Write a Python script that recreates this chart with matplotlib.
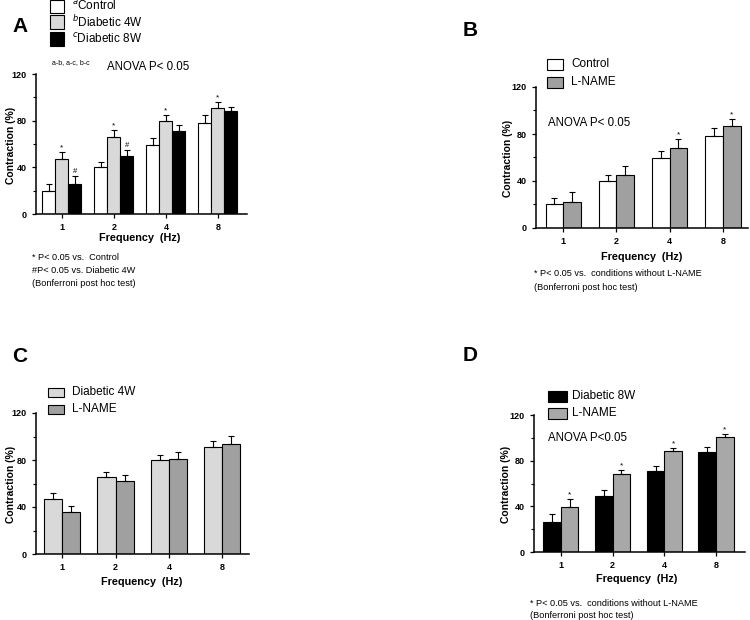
import matplotlib
matplotlib.use("Agg")
import matplotlib.pyplot as plt
from matplotlib.patches import Rectangle
from matplotlib.ticker import MultipleLocator
import numpy as np

plt.rcParams['font.family'] = ['Liberation Sans', 'DejaVu Sans']

freqs = ["1", "2", "4", "8"]

# Panel A
ctrl_A = [20, 40, 59, 78]
ctrl_A_err = [6, 5, 6, 7]
d4w_A = [47, 66, 79.5, 91]
d4w_A_err = [6, 6, 5.5, 5]
d8w_A = [26, 49.5, 71, 88]
d8w_A_err = [7, 5.5, 5, 4]
markA_d4w = ["*", "*", "*", "*"]
markA_d8w = ["#", "#", "", ""]

# Panel B
ctrl_B = [20, 40, 59.5, 78]
ctrl_B_err = [5.5, 5, 6, 7]
lname_B = [22.5, 45.5, 68, 87]
lname_B_err = [8, 7, 8, 6]
markB = ["", "", "*", "*"]

# Panel C
d4w_C = [47, 65.5, 80, 91]
d4w_C_err = [4.5, 4.5, 4.5, 5]
lname_C = [36, 62, 81, 94]
lname_C_err = [5, 5, 6, 6.5]

# Panel D
d8w_D = [26, 49, 71, 88]
d8w_D_err = [7, 5.5, 4.5, 4]
lname_D = [39.5, 68.5, 88.5, 100.5]
lname_D_err = [7, 3.5, 3, 3]
markD = ["*", "*", "*", "*"]

W, H = 750, 620
fig = plt.figure(figsize=(7.5, 6.2), dpi=100)


def fx(px):
    return px / W


def fy(py):
    return 1 - py / H


def make_ax(left, right, top, bottom, xlim):
    ax = fig.add_axes([fx(left), fy(bottom), fx(right - left), (bottom - top) / H])
    ax.set_ylim(0, 120)
    ax.set_xlim(*xlim)
    for s in ["top", "right"]:
        ax.spines[s].set_visible(False)
    for s in ["left", "bottom"]:
        ax.spines[s].set_linewidth(1.1)
    ax.yaxis.set_major_locator(MultipleLocator(40))
    ax.yaxis.set_minor_locator(MultipleLocator(20))
    ax.set_xticks(range(len(freqs)))
    ax.set_xticklabels(freqs)
    ax.tick_params(axis='both', which='major', labelsize=6.5, length=3, width=0.9, direction='out')
    ax.tick_params(axis='y', which='minor', length=2, width=0.8)
    for lab in ax.get_xticklabels() + ax.get_yticklabels():
        lab.set_fontweight('bold')
    return ax


def bars(ax, x, vals, errs, color, width, marks=None, mark_size=6):
    ax.bar(x, vals, width=width, color=color, edgecolor='black', linewidth=0.8, zorder=2)
    ax.errorbar(x, vals, yerr=[np.zeros(len(vals)), errs], fmt='none', ecolor='black',
                elinewidth=0.8, capsize=2.5, capthick=0.8, zorder=3)
    if marks:
        for xi, v, e, m in zip(x, vals, errs, marks):
            if m:
                ax.text(xi, v + e + 0.5, m, ha='center', va='bottom', fontsize=mark_size)


def legend(entries, x0, ys, bw, bh, tx, fs=8.5):
    for (label, color), y in zip(entries, ys):
        fig.patches.append(Rectangle((fx(x0), fy(y + bh / 2)), fx(bw), bh / H,
                                     facecolor=color, edgecolor='black', linewidth=0.8,
                                     transform=fig.transFigure, figure=fig))
        fig.text(fx(tx), fy(y), label, fontsize=fs, va='center', ha='left')


def labels(ax, xl_x, xl_y, yl_x, yl_y):
    fig.text(fx(xl_x), fy(xl_y), "Frequency  (Hz)", fontsize=7.8, fontweight='bold',
             ha='center', va='center')
    fig.text(fx(yl_x), fy(yl_y), "Contraction (%)", fontsize=7.5, fontweight='bold',
             ha='center', va='center', rotation=90)


FN = 6.6
AN = 8.3
x = np.arange(len(freqs))

# ---- Panel A
axA = make_ax(36, 247, 74, 214, (-0.5, 3.56))
wA = 0.25
bars(axA, x - wA, ctrl_A, ctrl_A_err, 'white', wA)
bars(axA, x, d4w_A, d4w_A_err, '#d9d9d9', wA, markA_d4w)
bars(axA, x + wA, d8w_A, d8w_A_err, 'black', wA, markA_d8w, mark_size=5.5)
labels(axA, 140, 238, 11, 145)
fig.text(fx(20), fy(27), "A", fontsize=15, fontweight='bold', ha='center', va='center')
legend([("$^{a}$Control", 'white'), ("$^{b}$Diabetic 4W", '#d9d9d9'),
        ("$^{c}$Diabetic 8W", 'black')], 50, [6, 22, 39], 14, 13, 72)
fig.text(fx(52), fy(63), "a-b, a-c, b-c", fontsize=5, ha='left', va='center')
fig.text(fx(107), fy(67), "ANOVA P< 0.05", fontsize=AN, ha='left', va='center')
fig.text(fx(32), fy(258), "* P< 0.05 vs.  Control", fontsize=FN, ha='left', va='center')
fig.text(fx(32), fy(271), "#P< 0.05 vs. Diabetic 4W", fontsize=FN, ha='left', va='center')
fig.text(fx(32), fy(284), "(Bonferroni post hoc test)", fontsize=FN, ha='left', va='center')

# ---- Panel B
axB = make_ax(536, 748, 87, 228, (-0.51, 3.47))
wB = 0.33
bars(axB, x - wB / 2, ctrl_B, ctrl_B_err, 'white', wB)
bars(axB, x + wB / 2, lname_B, lname_B_err, '#a0a0a0', wB, markB)
labels(axB, 642, 257, 508, 158)
fig.text(fx(470), fy(30), "B", fontsize=15, fontweight='bold', ha='center', va='center')
legend([("Control", 'white'), ("L-NAME", '#a0a0a0')], 547, [64, 82], 16, 11, 571)
fig.text(fx(548), fy(123), "ANOVA P< 0.05", fontsize=AN, ha='left', va='center')
fig.text(fx(534), fy(274), "* P< 0.05 vs.  conditions without L-NAME", fontsize=FN,
         ha='left', va='center')
fig.text(fx(534), fy(287), "(Bonferroni post hoc test)", fontsize=FN, ha='left', va='center')

# ---- Panel C
axC = make_ax(36, 249, 413, 554, (-0.49, 3.5))
wC = 0.34
bars(axC, x - wC / 2, d4w_C, d4w_C_err, '#d9d9d9', wC)
bars(axC, x + wC / 2, lname_C, lname_C_err, '#a0a0a0', wC)
labels(axC, 142, 582, 11, 484)
fig.text(fx(20), fy(357), "C", fontsize=15, fontweight='bold', ha='center', va='center')
legend([("Diabetic 4W", '#d9d9d9'), ("L-NAME", '#a0a0a0')], 48, [392, 409], 16, 9, 72)

# ---- Panel D
axD = make_ax(534, 745, 415, 552, (-0.52, 3.56))
wD = 0.34
bars(axD, x - wD / 2, d8w_D, d8w_D_err, 'black', wD)
bars(axD, x + wD / 2, lname_D, lname_D_err, '#a8a8a8', wD, markD)
labels(axD, 637, 579, 506, 484)
fig.text(fx(470), fy(355), "D", fontsize=15, fontweight='bold', ha='center', va='center')
legend([("Diabetic 8W", 'black'), ("L-NAME", '#a8a8a8')], 548, [396, 413], 19, 11, 572)
fig.text(fx(548), fy(438), "ANOVA P<0.05", fontsize=AN, ha='left', va='center')
fig.text(fx(530), fy(604), "* P< 0.05 vs.  conditions without L-NAME", fontsize=FN,
         ha='left', va='center')
fig.text(fx(530), fy(615), "(Bonferroni post hoc test)", fontsize=FN, ha='left', va='center')

fig.savefig("out.png", dpi=100)
